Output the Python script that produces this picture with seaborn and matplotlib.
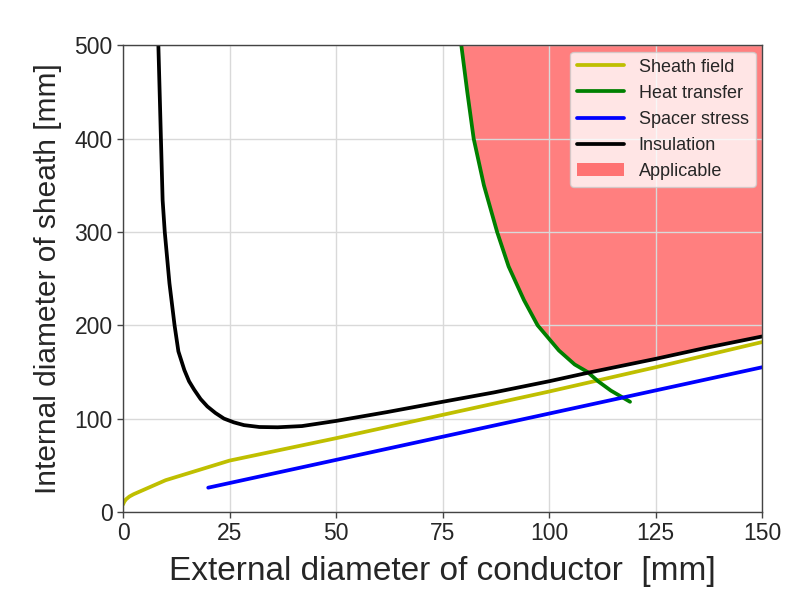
import numpy as np
import matplotlib
matplotlib.use("Agg")
import matplotlib.pyplot as plt
import seaborn as sns

# curves (x = conductor diameter, y = sheath diameter, mm)
sheath_x = [0, 0.3, 0.7, 1.5, 2.5, 4, 6, 10, 15, 20, 25, 50, 75, 100, 125, 150]
sheath_y = [8, 11, 13.5, 16.5, 19, 22, 26, 34, 41, 48, 55, 79, 104, 129, 155, 182]

heat_x = [79.4, 80.8, 82.3, 84.7, 87.8, 90.5, 94.1, 97.3, 102.3, 106.0, 109.0, 111.5, 114.5, 119.0]
heat_y = [500, 450, 400, 350, 300, 263, 227, 200, 173, 158, 150, 140, 130, 118]

spacer_x = [20, 150]
spacer_y = [26, 155]

insul_x = [8.3, 8.6, 8.9, 9.3, 9.8, 10.9, 12.1, 13.0, 14.4, 15.5, 16.7, 18.2, 19.8, 21.7, 23.7,
           26.0, 28.4, 32.0, 36.3, 42.0, 50.0, 62.0, 75.0, 87.0, 100.0, 109.0, 125.0, 137.0, 150.0]
insul_y = [500, 450, 400, 334, 300, 245, 200, 172, 152, 140, 131, 121, 113, 106, 100,
           96, 93, 91, 90.7, 92, 97.5, 107, 118, 128, 140, 149, 164, 176, 188]

sns.set_style("whitegrid")
plt.rcParams['font.family'] = ['Liberation Sans', 'DejaVu Sans']

fig = plt.figure(figsize=(7.91, 6.03), dpi=100)
ax = fig.add_axes([0.1555, 0.151, 0.808, 0.774])

# applicable region: above both insulation and heat transfer limits
xx = np.linspace(heat_x[0], 150, 500)
lower = np.maximum(np.interp(xx, insul_x, insul_y), np.interp(xx, heat_x, heat_y))
ax.fill_between(xx, lower, 500, color="red", alpha=0.5, linewidth=0, label="Applicable", zorder=1)

lw = 2.7
sns.lineplot(x=sheath_x, y=sheath_y, color="#bfbf00", linewidth=lw, label="Sheath field", ax=ax, sort=False)
sns.lineplot(x=heat_x, y=heat_y, color="green", linewidth=lw, label="Heat transfer", ax=ax, sort=False)
sns.lineplot(x=spacer_x, y=spacer_y, color="blue", linewidth=lw, label="Spacer stress", ax=ax, sort=False)
sns.lineplot(x=insul_x, y=insul_y, color="black", linewidth=lw, label="Insulation", ax=ax, sort=False)
for ln in ax.lines:
    ln.set_solid_joinstyle("round")

ax.set_xlim(0, 150)
ax.set_ylim(0, 500)
ax.set_xticks([0, 25, 50, 75, 100, 125, 150])
ax.set_yticks([0, 100, 200, 300, 400, 500])
ax.set_axisbelow('line')
ax.grid(True, color="#d9d9d9", linewidth=1.0)
for s in ax.spines.values():
    s.set_color("#444444")
    s.set_linewidth(1.0)
ax.tick_params(axis="both", labelsize=16.5, length=4, width=1, color="#444444", direction="out",
               bottom=True, left=True)
ax.set_xlabel("External diameter of conductor  [mm]", fontsize=24, labelpad=8)
ax.set_ylabel("Internal diameter of sheath [mm]", fontsize=21.5, labelpad=9)

handles, labels = ax.get_legend_handles_labels()
order = ["Sheath field", "Heat transfer", "Spacer stress", "Insulation", "Applicable"]
hmap = dict(zip(labels, handles))
ax.legend([hmap[k] for k in order], order, loc="upper right", fontsize=13,
          frameon=True, framealpha=0.8, edgecolor="#cccccc", fancybox=True,
          handlelength=2.6, borderaxespad=0.35)

fig.savefig("out.png", dpi=100)
